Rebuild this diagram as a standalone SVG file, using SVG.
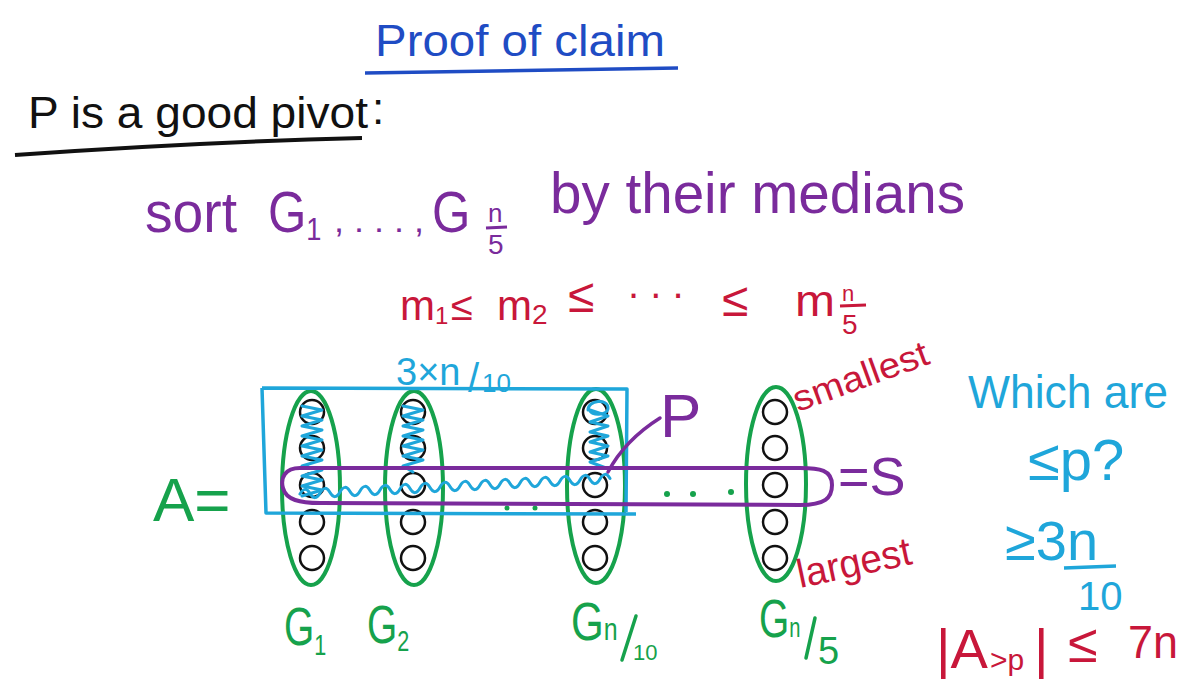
<svg xmlns="http://www.w3.org/2000/svg" width="1183" height="679" viewBox="0 0 1183 679">
<style>
text{font-family:"Liberation Sans","DejaVu Sans",sans-serif}
.bl{fill:#1f4cc4}
.bk{fill:#111}
.pu{fill:#7a2b9c}
.rd{fill:#c8173a}
.gr{fill:#16a24c}
.cy{fill:#1fa6da}
.ell{fill:none;stroke:#16a24c;stroke-width:4}
.cir{fill:#fff;stroke:#111;stroke-width:2.5}
.scr{fill:none;stroke:#1fa6da;stroke-width:3;stroke-linejoin:round;stroke-linecap:round}
.dot{fill:#16a24c}
</style>
<rect width="1183" height="679" fill="#fff"/>

<g id="title">
<text x="375" y="56" font-size="44" class="bl" textLength="290" lengthAdjust="spacingAndGlyphs">Proof of claim</text>
<path d="M365,73 L678,68" stroke="#1f4cc4" stroke-width="3.5" fill="none"/>
</g>

<g id="heading">
<text x="28" y="128" font-size="44" class="bk" textLength="340" lengthAdjust="spacingAndGlyphs">P is a good pivot</text>
<text x="372" y="124" font-size="44" class="bk">:</text>
<path d="M15,155 Q200,142 362,138" stroke="#111" stroke-width="4" fill="none"/>
</g>

<g id="sort-line" class="pu">
<text x="145" y="232" font-size="58" textLength="92" lengthAdjust="spacingAndGlyphs">sort</text>
<text transform="translate(268,232) scale(0.85,1)" font-size="58">G<tspan font-size="32" dy="8">1</tspan></text>
<text x="334" y="232" font-size="34" textLength="90" lengthAdjust="spacingAndGlyphs">, . . . ,</text>
<text transform="translate(432,232) scale(0.85,1)" font-size="58">G</text>
<text x="488" y="222" font-size="26">n</text>
<path d="M486,228 L507,227" stroke="#7a2b9c" stroke-width="3" fill="none"/>
<text x="488" y="254" font-size="28">5</text>
<text x="550" y="213" font-size="58" textLength="415" lengthAdjust="spacingAndGlyphs">by their medians</text>
</g>

<g id="order-line" class="rd">
<text x="400" y="320" font-size="42">m<tspan font-size="24" dy="4">1</tspan></text>
<text x="451" y="320" font-size="40">≤</text>
<text x="497" y="320" font-size="42">m<tspan font-size="28" dy="4">2</tspan></text>
<text x="568" y="312" font-size="48">≤</text>
<text x="628" y="298" font-size="40">. . .</text>
<text x="722" y="316" font-size="48">≤</text>
<text x="795" y="316" font-size="44" textLength="40" lengthAdjust="spacingAndGlyphs">m</text>
<text x="842" y="301" font-size="22">n</text>
<path d="M840,306 L866,305" stroke="#c8173a" stroke-width="3" fill="none"/>
<text x="842" y="334" font-size="28">5</text>
</g>

<g id="count-label" class="cy">
<text x="396" y="385" font-size="38">3×n</text>
<text x="468" y="392" font-size="40">/</text>
<text x="482" y="392" font-size="26">10</text>
</g>

<g id="A-label">
<text x="153" y="521" font-size="62" class="gr">A=</text>
</g>

<g id="G1">
<ellipse cx="311" cy="488" rx="29" ry="97" class="ell"/>
<circle cx="312" cy="412" r="12" class="cir"/>
<circle cx="312" cy="448" r="12" class="cir"/>
<circle cx="312" cy="485" r="12" class="cir"/>
<circle cx="312" cy="522" r="12" class="cir"/>
<circle cx="312" cy="558" r="12" class="cir"/>
<text transform="translate(284,645) scale(0.72,1)" font-size="54" class="gr">G<tspan font-size="30" dy="10">1</tspan></text>
</g>

<g id="G2">
<ellipse cx="414" cy="488" rx="29" ry="97" class="ell"/>
<circle cx="413" cy="412" r="12" class="cir"/>
<circle cx="413" cy="448" r="12" class="cir"/>
<circle cx="413" cy="485" r="12" class="cir"/>
<circle cx="413" cy="522" r="12" class="cir"/>
<circle cx="413" cy="558" r="12" class="cir"/>
<text transform="translate(367,643) scale(0.72,1)" font-size="54" class="gr">G<tspan font-size="30" dy="8">2</tspan></text>
</g>

<g id="Gn10">
<ellipse cx="596" cy="486" rx="29" ry="97" class="ell"/>
<circle cx="595" cy="412" r="12" class="cir"/>
<circle cx="595" cy="448" r="12" class="cir"/>
<circle cx="595" cy="485" r="12" class="cir"/>
<circle cx="595" cy="522" r="12" class="cir"/>
<circle cx="595" cy="558" r="12" class="cir"/>
<text transform="translate(571,640) scale(0.78,1)" font-size="54" class="gr">G<tspan font-size="32">n</tspan></text>
<path d="M636,616 L622,660" stroke="#16a24c" stroke-width="3.5" fill="none" stroke-linecap="round"/>
<text x="633" y="660" font-size="22" class="gr">10</text>
</g>

<g id="Gn5">
<ellipse cx="776" cy="484" rx="30" ry="97" class="ell"/>
<circle cx="775" cy="412" r="12" class="cir"/>
<circle cx="775" cy="448" r="12" class="cir"/>
<circle cx="775" cy="485" r="12" class="cir"/>
<circle cx="775" cy="522" r="12" class="cir"/>
<circle cx="775" cy="558" r="12" class="cir"/>
<text transform="translate(759,637) scale(0.72,1)" font-size="54" class="gr">G<tspan font-size="28">n</tspan></text>
<path d="M815,618 L806,658" stroke="#16a24c" stroke-width="3.5" fill="none" stroke-linecap="round"/>
<text x="818" y="664" font-size="38" class="gr">5</text>
</g>

<g id="dots">
<circle cx="507" cy="508" r="2.5" class="dot"/>
<circle cx="535" cy="508" r="2.5" class="dot"/>
<circle cx="667" cy="494" r="3" class="dot"/>
<circle cx="693" cy="494" r="3" class="dot"/>
<circle cx="731" cy="492" r="3" class="dot"/>
</g>

<g id="box-3n10">
<path d="M262,388 L627,389 L626,512 M262,388 L266,513 L636,514" fill="none" stroke="#1fa6da" stroke-width="3.5" stroke-linejoin="round"/>
<path class="scr" d="M302,406 l20,4 -20,6 20,4 -20,6 20,4 -20,6 20,4 -20,6 20,4 -20,6 20,4 -20,6 20,4 -20,6 20,4 -20,6 20,4 -20,6"/>
<path class="scr" d="M403,406 l20,4 -20,6 20,4 -20,6 20,4 -20,6 20,4 -20,6 20,4 -20,6 20,4 -20,6 10,6"/>
<path class="scr" d="M588,410 c0,-10 20,-12 20,-2 c0,8 -18,8 -18,2 l18,6 -18,6 18,4 -18,6 18,4 -18,6 18,4 -18,6 18,4 -18,6 16,6"/>
<path class="scr" d="M300,494 q5,-9 10,-0.5 t10,-0.5 t10,-0.5 t10,-0.5 t10,-0.5 t10,-0.5 t10,-0.5 t10,-0.5 t10,-0.5 t10,-0.5 t10,-0.5 t10,-0.5 t10,-0.5 t10,-0.5 t10,-0.5 t10,-0.5 t10,-0.5 t10,-0.5 t10,-0.5 t10,-0.5 t10,-0.5 t10,-0.5 t10,-0.5 t10,-0.5 t10,-0.5 t10,-0.5 t10,-0.5 t10,-0.5 t10,-0.5 t10,-0.5 t10,-0.5"/>
</g>

<g id="S-loop">
<path d="M832,485 C832,470 820,468 800,468 L300,468 C285,468 280,478 283,488 C286,500 300,503 320,503 L800,505 C825,505 832,498 832,485 Z" fill="none" stroke="#7a2b9c" stroke-width="4"/>
<text x="838" y="495" font-size="54" class="pu">=S</text>
</g>

<g id="connectors">
<path d="M608,472 Q625,440 660,418" fill="none" stroke="#7a2b9c" stroke-width="3.5" stroke-linecap="round"/>
</g>

<g id="P-label">
<text x="660" y="437" font-size="62" class="pu">P</text>
</g>

<g id="extremes" class="rd">
<text x="798" y="412" font-size="36" transform="rotate(-20 798 412)" textLength="142" lengthAdjust="spacingAndGlyphs">smallest</text>
<text x="800" y="588" font-size="40" transform="rotate(-12 800 588)" textLength="116" lengthAdjust="spacingAndGlyphs">largest</text>
</g>

<g id="question" class="cy">
<text x="968" y="408" font-size="46" textLength="200" lengthAdjust="spacingAndGlyphs">Which are</text>
<text x="1028" y="480" font-size="58">≤p?</text>
<text x="1005" y="560" font-size="56">≥3n</text>
<path d="M1064,568 L1116,566" stroke="#1fa6da" stroke-width="3.5" fill="none"/>
<text x="1078" y="610" font-size="40">10</text>
</g>

<g id="bound" class="rd">
<text x="936" y="668" font-size="56">|A</text>
<text x="990" y="670" font-size="30">&gt;p</text>
<text x="1034" y="668" font-size="56">|</text>
<text x="1068" y="662" font-size="54">≤</text>
<text x="1128" y="658" font-size="46" textLength="50" lengthAdjust="spacingAndGlyphs">7n</text>
</g>
</svg>
